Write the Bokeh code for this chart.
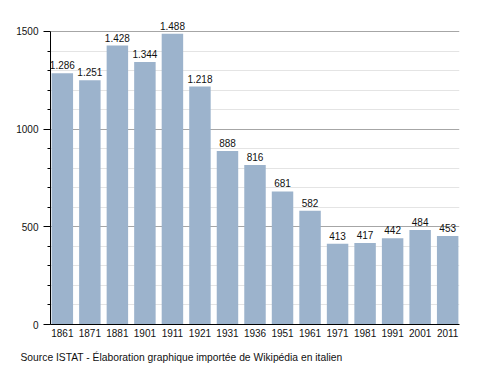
from bokeh.plotting import figure
from bokeh.models import Range1d, FixedTicker, Title, ColumnDataSource
from bokeh.core.properties import value
from bokeh.embed import file_html
from bokeh.resources import INLINE

years = ["1861", "1871", "1881", "1901", "1911", "1921", "1931", "1936",
         "1951", "1961", "1971", "1981", "1991", "2001", "2011"]
population = [1286, 1251, 1428, 1344, 1488, 1218, 888, 816,
              681, 582, 413, 417, 442, 484, 453]
y_major_ticks = [0, 500, 1000, 1500]
y_minor_ticks = [100, 200, 300, 400, 600, 700, 800, 900,
                 1100, 1200, 1300, 1400]
source_note = "Source ISTAT - Élaboration graphique importée de Wikipédia en italien"

FONT = "Liberation Sans"
BAR_W = 0.78

idx = list(range(len(years)))
labels = [f"{v:,}".replace(",", ".") for v in population]
src = ColumnDataSource(dict(x=idx, top=population, label=labels))

p = figure(width=480, height=373, output_backend="svg", toolbar_location=None,
           x_range=Range1d(-BAR_W / 2 - 0.04, len(years) - 1 + BAR_W / 2 + 0.04),
           y_range=Range1d(0, 1607.5),
           min_border_left=50, min_border_right=21, min_border_top=10,
           min_border_bottom=49)
p.outline_line_color = None
p.background_fill_color = "white"

p.vbar(x="x", top="top", width=BAR_W, bottom=0, source=src,
       fill_color="#9cb3cc", line_color=None)
p.text(x="x", y="top", text="label", source=src, text_align="center",
       text_baseline="bottom", y_offset=-4, text_font=value(FONT),
       text_font_size="10px", text_color="#111111")

# y axis
yax = p.yaxis[0]
yax.ticker = FixedTicker(ticks=y_major_ticks, minor_ticks=y_minor_ticks)
yax.bounds = (0, 1500)
yax.axis_line_color = "black"
yax.major_tick_in = 0
yax.major_tick_out = 7
yax.minor_tick_in = 0
yax.minor_tick_out = 3
yax.major_tick_line_color = "black"
yax.minor_tick_line_color = "black"
yax.major_label_standoff = 5
yax.major_label_text_font = FONT
yax.major_label_text_font_size = "10px"
yax.major_label_text_color = "#111111"

# x axis
xax = p.xaxis[0]
xax.ticker = FixedTicker(ticks=idx)
xax.major_label_overrides = {i: y for i, y in zip(idx, years)}
xax.axis_line_color = "black"
xax.major_tick_line_color = None
xax.minor_tick_line_color = None
xax.major_tick_in = 0
xax.major_tick_out = 0
xax.major_label_standoff = 4
xax.major_label_text_font = FONT
xax.major_label_text_font_size = "10px"
xax.major_label_text_color = "#111111"

# grid
p.xgrid.grid_line_color = None
yg = p.ygrid[0]
yg.ticker = FixedTicker(ticks=y_major_ticks, minor_ticks=y_minor_ticks)
yg.grid_line_color = "#a6a6a6"
yg.minor_grid_line_color = "#e4e4e4"

p.add_layout(Title(text=source_note, align="left", offset=-30,
                   text_font=FONT, text_font_size="10.3px",
                   text_font_style="normal", text_color="#111111",
                   standoff=20), "below")

open("out.html", "w").write(file_html(p, INLINE))
